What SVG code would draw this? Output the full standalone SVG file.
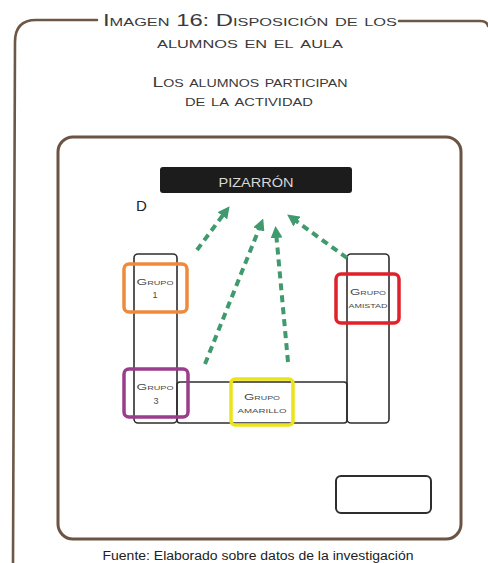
<svg xmlns="http://www.w3.org/2000/svg" width="488" height="563" viewBox="0 0 488 563">
<style>
.frame{fill:none;stroke:#6d5847;stroke-width:2.6;stroke-linecap:round}
.inner{fill:none;stroke:#6b5443;stroke-width:3}
.desk{fill:none;stroke:#2e2e2e;stroke-width:1.6}
.grp{fill:none;stroke-width:3.5}
.ttl{font-family:"Liberation Sans",Arial,sans-serif;font-variant:small-caps;fill:#3a3a3a;text-anchor:middle}
.gl{font-family:"Liberation Sans",Arial,sans-serif;font-variant:small-caps;fill:#4a4a4a;text-anchor:middle;font-size:9px}
.arr{fill:none;stroke:#3f9a6e;stroke-width:4;stroke-dasharray:7 5;marker-end:url(#ah)}
</style>
<defs>
<marker id="ah" viewBox="0 0 10 10" refX="5" refY="5" markerWidth="3" markerHeight="3" orient="auto" markerUnits="strokeWidth">
<path d="M0,0 L10,5 L0,10 z" fill="#3f9a6e"/>
</marker>
</defs>
<rect width="488" height="563" fill="#ffffff"/>
<g id="outer-frame">
<path class="frame" d="M97,20 L36,20 Q15,20 15,42 L13,563"/>
<path class="frame" d="M399,21 L480,21 Q487,21 488,26"/>
</g>
<g id="title">
<text class="ttl" x="250" y="26" font-size="16" textLength="294" lengthAdjust="spacingAndGlyphs">Imagen 16: Disposición de los</text>
<text class="ttl" x="250" y="48" font-size="16" textLength="186" lengthAdjust="spacingAndGlyphs">alumnos en el aula</text>
<text class="ttl" x="250" y="87" font-size="15" textLength="195" lengthAdjust="spacingAndGlyphs">Los alumnos participan</text>
<text class="ttl" x="249" y="106" font-size="15" textLength="128" lengthAdjust="spacingAndGlyphs">de la actividad</text>
</g>
<g id="classroom">
<rect class="inner" x="58" y="137" width="403" height="402" rx="15"/>
</g>
<g id="pizarron">
<rect x="160" y="167" width="192" height="26" rx="3" fill="#1c1c1c"/>
<text x="256" y="187" font-family="'Liberation Sans',Arial,sans-serif" font-size="13.5" fill="#d8d8d8" text-anchor="middle" textLength="75" lengthAdjust="spacingAndGlyphs">PIZARRÓN</text>
</g>
<g id="docente">
<text x="136" y="211" font-family="'Liberation Sans',Arial,sans-serif" font-size="15" fill="#222">D</text>
</g>
<g id="desks">
<rect class="desk" x="134" y="254" width="43" height="169" rx="4"/>
<rect class="desk" x="177" y="382" width="170" height="41" rx="3"/>
<rect class="desk" x="347" y="254" width="42" height="169" rx="4"/>
</g>
<g id="connectors">
<line class="arr" x1="197" y1="250" x2="226" y2="211"/>
<line class="arr" x1="205" y1="364" x2="261" y2="224"/>
<line class="arr" x1="288" y1="362" x2="276" y2="232"/>
<line class="arr" x1="347" y1="258" x2="292" y2="218"/>
</g>
<g id="grupo-1">
<rect class="grp" x="124" y="264" width="63" height="48" rx="5" stroke="#ef8a3c"/>
<text class="gl" x="155" y="285" textLength="37" lengthAdjust="spacingAndGlyphs">Grupo</text>
<text class="gl" x="155" y="298">1</text>
</g>
<g id="grupo-amistad">
<rect class="grp" x="336" y="274" width="63" height="49" rx="5" stroke="#e0202a"/>
<text class="gl" x="368" y="295" textLength="36" lengthAdjust="spacingAndGlyphs">Grupo</text>
<text class="gl" x="368" y="308" textLength="39" lengthAdjust="spacingAndGlyphs">amistad</text>
</g>
<g id="grupo-3">
<rect class="grp" x="124" y="369" width="64" height="48" rx="5" stroke="#9a3d8c"/>
<text class="gl" x="155" y="390" textLength="37" lengthAdjust="spacingAndGlyphs">Grupo</text>
<text class="gl" x="156" y="404">3</text>
</g>
<g id="grupo-amarillo">
<rect class="grp" x="231" y="379" width="62" height="46" rx="4" stroke="#ece31a"/>
<text class="gl" x="262" y="400" textLength="36" lengthAdjust="spacingAndGlyphs">Grupo</text>
<text class="gl" x="262" y="413" textLength="49" lengthAdjust="spacingAndGlyphs">amarillo</text>
</g>
<g id="mesa">
<rect x="336" y="476" width="95" height="37" rx="5" fill="none" stroke="#2e2e2e" stroke-width="2"/>
</g>
<g id="fuente">
<text x="258" y="560" font-family="'Liberation Sans',Arial,sans-serif" font-size="12.5" fill="#222" text-anchor="middle" textLength="311" lengthAdjust="spacingAndGlyphs">Fuente: Elaborado sobre datos de la investigación</text>
</g>
</svg>
